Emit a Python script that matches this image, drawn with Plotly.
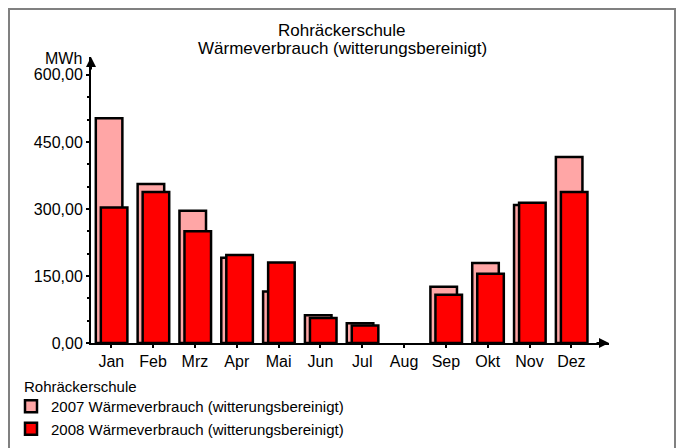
import plotly.graph_objects as go

months = ["Jan", "Feb", "Mrz", "Apr", "Mai", "Jun", "Jul", "Aug", "Sep", "Okt", "Nov", "Dez"]
v2007 = [503, 356, 296, 191, 115, 62, 44, None, 126, 179, 309, 416]
v2008 = [303, 338, 250, 197, 180, 56, 39, None, 108, 155, 314, 338]
name2007 = "2007 Wärmeverbrauch (witterungsbereinigt)"
name2008 = "2008 Wärmeverbrauch (witterungsbereinigt)"
legend_title = "Rohräckerschule"
y_ticks = [0, 150, 300, 450, 600]

FONT = "Liberation Sans, Arial, sans-serif"

fig = go.Figure()
fig.add_trace(go.Bar(
    x=months, y=v2007, name=name2007,
    marker=dict(color="#FFA6A6", line=dict(color="black", width=2.5)),
    width=0.635, offset=-0.37,
))
fig.add_trace(go.Bar(
    x=months, y=v2008, name=name2008,
    marker=dict(color="#FF0000", line=dict(color="black", width=2.5)),
    width=0.635, offset=-0.25,
))

W, H = 677, 448
L, T = 91, 57
R = W - 609
B = H - 343
pw, ph = W - L - R, H - T - B


def px(x):  # screen x -> paper
    return (x - L) / pw


def py(y):  # screen y -> paper
    return (H - B - y) / ph


fig.update_layout(
    width=W, height=H,
    margin=dict(l=L, r=R, t=T, b=B, pad=0, autoexpand=False),
    paper_bgcolor="white", plot_bgcolor="white",
    barmode="overlay",
    separators=",.",
    font=dict(family=FONT, size=16, color="black"),
    showlegend=True,
    legend=dict(
        x=px(11), xanchor="left", y=py(390), yanchor="top",
        font=dict(size=15),
        traceorder="normal",
        bgcolor="rgba(0,0,0,0)",
        tracegroupgap=0,
    ),
    xaxis=dict(
        type="category", range=[-0.485, 11.9],
        showline=True, linecolor="black", linewidth=2,
        ticks="outside", ticklen=3, tickwidth=2, tickcolor="black",
        showgrid=False, zeroline=False, fixedrange=True,
        tickfont=dict(size=16),
    ),
    yaxis=dict(
        range=[0, 640],
        tickvals=y_ticks, tickformat=".2f",
        showline=True, linecolor="black", linewidth=2,
        ticks="outside", ticklen=3, tickwidth=2, tickcolor="black",
        minor=dict(dtick=50, ticks="outside", ticklen=2, tickwidth=2, tickcolor="black"),
        showgrid=False, zeroline=False, fixedrange=True,
        tickfont=dict(size=16),
    ),
    shapes=[
        dict(type="rect", xref="paper", yref="paper",
             x0=px(9), x1=px(675), y0=py(470), y1=py(9),
             line=dict(color="#808080", width=2), fillcolor="rgba(0,0,0,0)", layer="below"),
    ],
    annotations=[
        dict(text="Rohräckerschule", xref="paper", yref="paper", x=px(342), y=py(30),
             xanchor="center", yanchor="middle", showarrow=False, font=dict(size=17)),
        dict(text="Wärmeverbrauch (witterungsbereinigt)", xref="paper", yref="paper",
             x=px(342), y=py(48.5), xanchor="center", yanchor="middle", showarrow=False,
             font=dict(size=17)),
        dict(text="MWh", xref="paper", yref="paper", x=px(84), y=py(58),
             xanchor="right", yanchor="middle", showarrow=False, font=dict(size=16)),
        dict(text=legend_title, xref="paper", yref="paper", x=px(22), y=py(386),
             xanchor="left", yanchor="middle", showarrow=False, font=dict(size=15)),
        # axis arrowheads
        dict(text="", xref="paper", yref="paper", x=1, y=0, ax=-14, ay=0,
             showarrow=True, arrowhead=2, arrowsize=1, arrowwidth=2, arrowcolor="black",
             standoff=0),
        dict(text="", xref="paper", yref="paper", x=0, y=1, ax=0, ay=14,
             showarrow=True, arrowhead=2, arrowsize=1, arrowwidth=2, arrowcolor="black",
             standoff=0),
    ],
)

fig.write_html(
    "out.html",
    config={"displayModeBar": False},
    post_script="document.body.style.margin='0';document.body.style.overflow='hidden';",
)
